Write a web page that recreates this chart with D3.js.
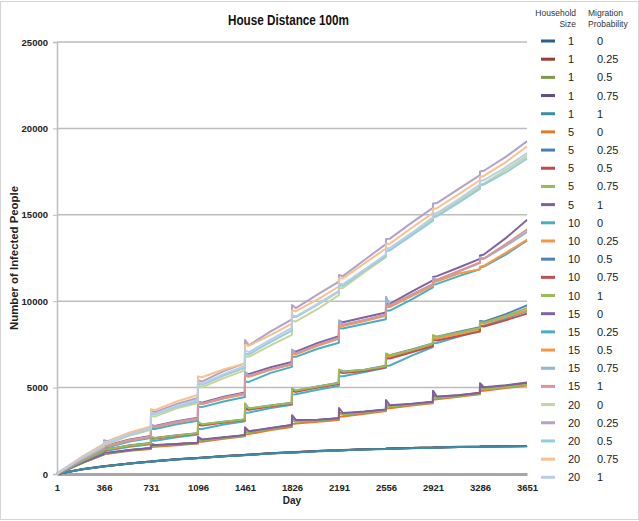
<!DOCTYPE html>
<html>
<head>
<meta charset="utf-8">
<script src="https://cdn.jsdelivr.net/npm/d3@7"></script>
<style>
html,body{margin:0;padding:0;background:#fff;}
svg{display:block;font-family:"Liberation Sans",Arial,sans-serif;}
</style>
</head>
<body>
<svg id="chart" width="639" height="521"></svg>
<script>
// ---------- data ----------
const titleText = "House Distance 100m";
const xTicks = [1, 366, 731, 1096, 1461, 1826, 2191, 2556, 2921, 3286, 3651];
const yTicks = [0, 5000, 10000, 15000, 20000, 25000];
const householdSizes = [1,1,1,1,1,5,5,5,5,5,10,10,10,10,10,15,15,15,15,15,20,20,20,20,20];
const migrationProbs = ["0","0.25","0.5","0.75","1","0","0.25","0.5","0.75","1","0","0.25","0.5","0.75","1","0","0.25","0.5","0.75","1","0","0.25","0.5","0.75","1"];
const seriesColors = ["#2f5f8c","#9c3a38","#7f9a46","#5e4b87","#3a8da4",
  "#e57a2c","#4a7ebb","#be4b48","#98b954","#7d60a0",
  "#4bacc6","#f79646","#4f81bd","#c0504d","#9bbb59",
  "#8064a2","#4bacc6","#f79646","#95b3d7","#d99694",
  "#c3d69b","#b3a2c7","#93cddd","#fac090","#b9cde5"];
const days = [1, 31, 201, 365, 366, 396, 566, 730, 731, 761, 931, 1095, 1096, 1126, 1296, 1460,
  1461, 1491, 1661, 1825, 1826, 1856, 2026, 2190, 2191, 2221, 2391, 2555, 2556, 2586, 2756, 2920,
  2921, 2951, 3121, 3285, 3286, 3316, 3486, 3650, 3651];

const sz1_0  = [0, 40, 280, 440, 442, 468, 610, 720, 722, 740, 850, 925, 926, 940, 1030, 1100, 1101, 1112, 1195, 1250, 1251, 1260, 1325, 1370, 1371, 1378, 1430, 1462, 1463, 1468, 1505, 1532, 1533, 1537, 1566, 1582, 1583, 1586, 1604, 1618, 1620];
const sz1_25 = [0, 42, 285, 445, 447, 472, 615, 728, 730, 748, 858, 932, 933, 946, 1038, 1108, 1109, 1120, 1200, 1256, 1257, 1266, 1330, 1376, 1377, 1384, 1436, 1468, 1469, 1474, 1510, 1538, 1539, 1543, 1572, 1588, 1589, 1592, 1610, 1625, 1627];
const sz1_5  = [0, 39, 278, 436, 438, 464, 605, 716, 718, 736, 846, 920, 921, 935, 1025, 1095, 1096, 1107, 1190, 1245, 1246, 1255, 1320, 1365, 1366, 1373, 1425, 1457, 1458, 1463, 1500, 1527, 1528, 1532, 1561, 1577, 1578, 1581, 1599, 1613, 1615];
const sz1_75 = [0, 41, 282, 442, 444, 470, 612, 724, 726, 744, 854, 928, 929, 943, 1034, 1104, 1105, 1116, 1198, 1253, 1254, 1263, 1328, 1373, 1374, 1381, 1433, 1465, 1466, 1471, 1508, 1535, 1536, 1540, 1569, 1585, 1586, 1589, 1607, 1622, 1624];
const sz1_1  = [0, 40, 276, 434, 436, 462, 602, 712, 714, 732, 842, 916, 917, 931, 1021, 1090, 1091, 1102, 1185, 1240, 1241, 1250, 1315, 1360, 1361, 1368, 1420, 1452, 1453, 1458, 1495, 1522, 1523, 1527, 1556, 1572, 1573, 1576, 1594, 1608, 1610];

const sz5_0  = [0, 95, 640, 1120, 1150, 1165, 1340, 1450, 1560, 1570, 1670, 1760, 1860, 1870, 2040, 2180, 2300, 2310, 2540, 2720, 2900, 2920, 3020, 3130, 3320, 3330, 3480, 3640, 3800, 3810, 3960, 4100, 4300, 4320, 4470, 4610, 4800, 4820, 4980, 5120, 5120];
const sz5_25 = [0, 100, 660, 1150, 1200, 1205, 1380, 1490, 1660, 1650, 1725, 1800, 1970, 1955, 2100, 2230, 2470, 2430, 2630, 2810, 3110, 3050, 3110, 3210, 3500, 3450, 3590, 3710, 3950, 3905, 4030, 4160, 4460, 4410, 4530, 4670, 4960, 4920, 5060, 5210, 5210];
const sz5_5  = [0, 102, 665, 1155, 1210, 1212, 1385, 1495, 1670, 1655, 1730, 1805, 1990, 1965, 2110, 2240, 2490, 2445, 2650, 2830, 3140, 3070, 3120, 3220, 3540, 3470, 3600, 3720, 4000, 3925, 4040, 4170, 4560, 4450, 4560, 4700, 5100, 4980, 5110, 5260, 5260];
const sz5_75 = [0, 98, 655, 1140, 1190, 1195, 1370, 1480, 1650, 1640, 1715, 1790, 1960, 1945, 2090, 2220, 2460, 2420, 2620, 2800, 3100, 3040, 3100, 3190, 3490, 3440, 3570, 3690, 3940, 3895, 4015, 4140, 4440, 4395, 4510, 4640, 4940, 4900, 5040, 5170, 5170];
const sz5_1  = [0, 104, 670, 1160, 1280, 1230, 1390, 1500, 1750, 1680, 1740, 1810, 2150, 2000, 2120, 2250, 2700, 2480, 2660, 2840, 3400, 3130, 3140, 3230, 3820, 3530, 3610, 3730, 4280, 3980, 4060, 4180, 4820, 4480, 4560, 4690, 5250, 5020, 5130, 5300, 5300];

const sz10_0  = [0, 115, 740, 1300, 1340, 1355, 1580, 1720, 1920, 1930, 2120, 2280, 2600, 2610, 2870, 3050, 3550, 3560, 3820, 4000, 4600, 4610, 4880, 5100, 5650, 5660, 5900, 6150, 6250, 6280, 6850, 7350, 7560, 7580, 7950, 8300, 8550, 8580, 9000, 9420, 9420];
const sz10_25 = [0, 120, 760, 1350, 1410, 1420, 1640, 1770, 2080, 2065, 2220, 2340, 2880, 2840, 3000, 3140, 3780, 3740, 3940, 4090, 4830, 4780, 5040, 5240, 5930, 5880, 5990, 6200, 6800, 6780, 7120, 7470, 7850, 7840, 8100, 8360, 8720, 8700, 9080, 9480, 9480];
const sz10_5  = [0, 122, 770, 1360, 1430, 1435, 1660, 1790, 2110, 2090, 2240, 2360, 2920, 2870, 3030, 3160, 3820, 3780, 3970, 4120, 4880, 4820, 5070, 5280, 6000, 5930, 6040, 6260, 6930, 6880, 7200, 7560, 7980, 7950, 8230, 8500, 8850, 8820, 9250, 9760, 9760];
const sz10_75 = [0, 118, 755, 1340, 1400, 1410, 1630, 1760, 2070, 2055, 2210, 2330, 2850, 2810, 2980, 3120, 3750, 3720, 3920, 4070, 4800, 4760, 5010, 5210, 5900, 5850, 5960, 6170, 6700, 6680, 7050, 7400, 7750, 7730, 7980, 8240, 8560, 8540, 8900, 9280, 9280];
const sz10_1  = [0, 121, 765, 1355, 1450, 1430, 1650, 1780, 2160, 2090, 2235, 2355, 3030, 2880, 3030, 3160, 4090, 3800, 3960, 4110, 4970, 4830, 5060, 5260, 6050, 5920, 6030, 6240, 6980, 6870, 7180, 7550, 8040, 7930, 8190, 8450, 8800, 8760, 9150, 9600, 9600];

const sz15_0  = [0, 155, 860, 1530, 1650, 1660, 2000, 2200, 2820, 2780, 3060, 3260, 4180, 4120, 4470, 4720, 5850, 5780, 6180, 6480, 7150, 7080, 7580, 7980, 8850, 8780, 9070, 9350, 9850, 9850, 10550, 11200, 11400, 11450, 11950, 12450, 12650, 12700, 13650, 14700, 14700];
const sz15_25 = [0, 145, 810, 1460, 1540, 1550, 1880, 2080, 2620, 2600, 2880, 3080, 3900, 3870, 4200, 4450, 5350, 5330, 5850, 6200, 6800, 6780, 7250, 7600, 8450, 8420, 8700, 8950, 9450, 9460, 10100, 10800, 10950, 11000, 11450, 11850, 11950, 12000, 12700, 13500, 13500];
const sz15_5  = [0, 150, 840, 1500, 1600, 1610, 1940, 2140, 2730, 2700, 2980, 3180, 4080, 4030, 4370, 4620, 5680, 5630, 6030, 6330, 6980, 6930, 7420, 7820, 8600, 8560, 8850, 9150, 9650, 9660, 10300, 10900, 11100, 11150, 11600, 11850, 12000, 12050, 12800, 13550, 13550];
const sz15_75 = [0, 152, 850, 1510, 1700, 1640, 1960, 2160, 2850, 2740, 3010, 3210, 4200, 4070, 4410, 4660, 5920, 5680, 6070, 6370, 7200, 6980, 7470, 7870, 8900, 8640, 8920, 9220, 10260, 9750, 10380, 10980, 11350, 11220, 11720, 12200, 12550, 12450, 13200, 14000, 14000];
const sz15_1  = [0, 150, 845, 1505, 1610, 1625, 1955, 2155, 2760, 2730, 3010, 3210, 4110, 4060, 4410, 4660, 5720, 5670, 6070, 6370, 7020, 6970, 7470, 7870, 8680, 8630, 8920, 9220, 9750, 9740, 10380, 10980, 11200, 11250, 11750, 12250, 12420, 12470, 13300, 14150, 14150];

const sz20_0  = [0, 165, 940, 1600, 1720, 1740, 2220, 2560, 3350, 3320, 3800, 4100, 5050, 5020, 5550, 6000, 6800, 6780, 7450, 8050, 8850, 8830, 9550, 10350, 10750, 10760, 11700, 12550, 12900, 12950, 13850, 14750, 14950, 15000, 15800, 16600, 16750, 16800, 17600, 18400, 18400];
const sz20_25 = [0, 175, 1000, 1700, 1950, 1900, 2380, 2720, 3650, 3580, 4050, 4400, 5450, 5350, 5950, 6400, 7750, 7450, 8250, 8950, 9780, 9600, 10400, 11130, 11520, 11450, 12400, 13300, 13600, 13620, 14550, 15400, 15650, 15680, 16500, 17300, 17500, 17550, 18350, 19250, 19250];
const sz20_5  = [0, 168, 960, 1640, 1780, 1800, 2280, 2620, 3480, 3450, 3900, 4200, 5200, 5160, 5700, 6150, 6950, 6920, 7650, 8300, 9100, 9080, 9800, 10550, 10900, 10900, 11800, 12600, 12900, 12950, 13800, 14650, 14850, 14900, 15700, 16500, 16700, 16750, 17450, 18250, 18250];
const sz20_75 = [0, 180, 1020, 1750, 1850, 1870, 2400, 2750, 3750, 3700, 4200, 4570, 5650, 5600, 6050, 6400, 7470, 7420, 8050, 8700, 9480, 9420, 10100, 10850, 11330, 11320, 12200, 13050, 13300, 13330, 14250, 15100, 15350, 15380, 16200, 17000, 17200, 17250, 18050, 18950, 18950];
const sz20_1  = [0, 170, 970, 1660, 1820, 1810, 2300, 2640, 3550, 3480, 3950, 4300, 5300, 5220, 5780, 6250, 7150, 7050, 7780, 8450, 9200, 9120, 9850, 10600, 11000, 10980, 11850, 12700, 13050, 13080, 13950, 14850, 15050, 15100, 15900, 16750, 16950, 17000, 17750, 18550, 18550];

const seriesValues = [sz1_0, sz1_25, sz1_5, sz1_75, sz1_1,
  sz5_0, sz5_25, sz5_5, sz5_75, sz5_1,
  sz10_0, sz10_25, sz10_5, sz10_75, sz10_1,
  sz15_0, sz15_25, sz15_5, sz15_75, sz15_1,
  sz20_0, sz20_25, sz20_5, sz20_75, sz20_1];

// ---------- drawing ----------
const svg = d3.select("#chart");
const W = 639, H = 521;
const plot = {left: 57, right: 527, top: 42, bottom: 474};

svg.append("rect").attr("x", 0.5).attr("y", 1.5).attr("width", W - 1).attr("height", H - 3)
  .attr("fill", "#fff").attr("stroke", "#d4d4d4").attr("stroke-width", 1);

const x = d3.scaleLinear().domain([1, 3651]).range([plot.left, plot.right]);
const y = d3.scaleLinear().domain([0, 25000]).range([plot.bottom, plot.top]);

// gridlines
svg.append("g").selectAll("line").data(yTicks.filter(d => d > 0)).join("line")
  .attr("x1", plot.left).attr("x2", plot.right)
  .attr("y1", d => y(d)).attr("y2", d => y(d))
  .attr("stroke", "#bdbdbd").attr("stroke-width", 1.5);

// y axis
const yAxis = svg.append("g").attr("transform", `translate(${plot.left},0)`)
  .call(d3.axisLeft(y).tickValues(yTicks).tickFormat(d3.format("d")).tickSize(4).tickPadding(5));
yAxis.select(".domain").attr("stroke", "#bdbdbd").attr("stroke-width", 1.5);
yAxis.selectAll(".tick line").attr("stroke", "#bdbdbd");
yAxis.selectAll(".tick text").attr("font-size", "9.5px").attr("font-weight", "bold").attr("fill", "#222")
  .attr("font-family", "'Liberation Sans', Arial, sans-serif");

// x axis
const xAxis = svg.append("g").attr("transform", `translate(0,${plot.bottom})`)
  .call(d3.axisBottom(x).tickValues(xTicks).tickFormat(d3.format("d")).tickSize(0).tickPadding(10));
xAxis.select(".domain").attr("stroke", "#a6a6a6").attr("stroke-width", 3);
xAxis.selectAll(".tick text").attr("font-size", "9.5px").attr("font-weight", "bold").attr("fill", "#222")
  .attr("font-family", "'Liberation Sans', Arial, sans-serif");

// lines
const line = d3.line().x((d, i) => x(days[i])).y(d => y(d));
svg.append("g").selectAll("path").data(seriesValues).join("path")
  .attr("d", d => line(d))
  .attr("fill", "none")
  .attr("stroke", (d, i) => seriesColors[i])
  .attr("stroke-width", 2)
  .attr("stroke-linejoin", "round");

// titles
svg.append("text").attr("x", 228).attr("y", 25)
  .attr("textLength", 121).attr("lengthAdjust", "spacingAndGlyphs")
  .attr("font-size", "14px").attr("font-weight", "bold").attr("fill", "#111").text(titleText);
svg.append("text").attr("x", 292).attr("y", 504).attr("text-anchor", "middle")
  .attr("font-size", "10px").attr("font-weight", "bold").attr("fill", "#222").text("Day");
svg.append("text").attr("transform", "translate(18,258) rotate(-90)").attr("text-anchor", "middle")
  .attr("textLength", 144).attr("lengthAdjust", "spacingAndGlyphs")
  .attr("font-size", "10.5px").attr("font-weight", "bold").attr("fill", "#222").text("Number of Infected People");

// legend
const lg = svg.append("g");
lg.append("text").attr("x", 576).attr("y", 16).attr("text-anchor", "end").attr("font-size", "8.5px").attr("fill", "#333").text("Household");
lg.append("text").attr("x", 576).attr("y", 27).attr("text-anchor", "end").attr("font-size", "8.5px").attr("fill", "#333").text("Size");
lg.append("text").attr("x", 588).attr("y", 16).attr("font-size", "8.5px").attr("fill", "#333").text("Migration");
lg.append("text").attr("x", 588).attr("y", 27).attr("font-size", "8.5px").attr("fill", "#333").text("Probability");

const rowY = d3.scaleLinear().domain([0, 24]).range([41, 477.3]);
const rows = lg.selectAll("g.row").data(d3.range(householdSizes.length)).join("g").attr("class", "row")
  .attr("transform", i => `translate(0,${rowY(i)})`);
rows.append("line").attr("x1", 541).attr("x2", 555).attr("y1", 0).attr("y2", 0)
  .attr("stroke", i => seriesColors[i]).attr("stroke-width", 3);
rows.append("text").attr("x", 568).attr("y", 4).attr("font-size", "11px").attr("fill", "#222").text(i => householdSizes[i]);
rows.append("text").attr("x", 597).attr("y", 4).attr("font-size", "11px").attr("fill", "#222").text(i => migrationProbs[i]);
</script>
</body>
</html>
